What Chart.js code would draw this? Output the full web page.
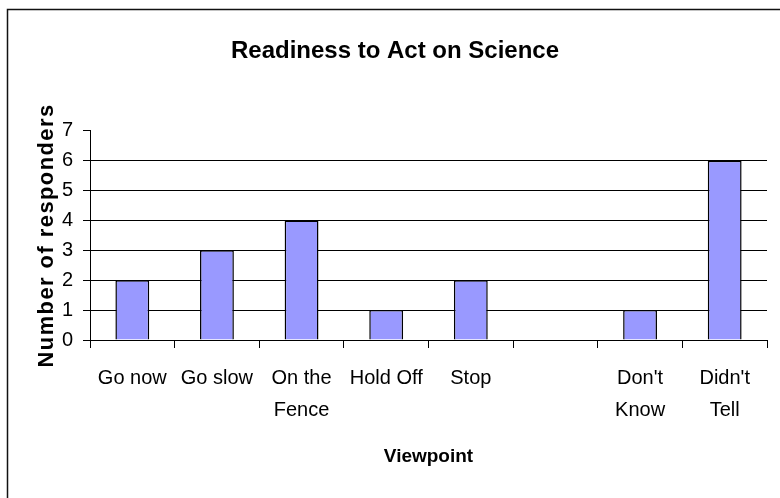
<!DOCTYPE html>
<html><head><meta charset="utf-8">
<script src="https://cdn.jsdelivr.net/npm/chart.js@4"></script>
<style>html,body{margin:0;padding:0;background:#fff}#wrap{width:780px;height:498px;position:relative}canvas{display:block}</style>
</head><body><div id="wrap"><canvas id="c" width="780" height="498"></canvas></div>
<script>
const categories = ['Go now', 'Go slow', ['On the', 'Fence'], 'Hold Off', 'Stop', '', ["Don't", 'Know'], ["Didn't", 'Tell']];
const responders = [2, 3, 4, 1, 2, 0, 1, 6];
const yTicks = [0, 1, 2, 3, 4, 5, 6, 7];
const chartTitle = 'Readiness to Act on Science';
const xTitle = 'Viewpoint';
const yTitle = 'Number of responders';

const FAMILY = "'Liberation Sans', Arial, Helvetica, sans-serif";
Chart.defaults.font.family = FAMILY;
Chart.defaults.color = '#000';

const framePlugin = {
  id: 'frame',
  beforeDraw(chart) {
    const ctx = chart.ctx;
    ctx.save();
    ctx.fillStyle = '#fff';
    ctx.fillRect(0, 0, chart.width, chart.height);
    ctx.strokeStyle = '#111';
    ctx.lineWidth = 1.5;
    ctx.beginPath();
    ctx.moveTo(7.5, chart.height);
    ctx.lineTo(7.5, 9.5);
    ctx.lineTo(chart.width, 9.5);
    ctx.stroke();
    ctx.restore();
  }
};

const yTitlePlugin = {
  id: 'yTitle',
  afterDraw(chart) {
    const ctx = chart.ctx;
    const area = chart.chartArea;
    ctx.save();
    ctx.font = "bold 22px " + FAMILY;
    ctx.letterSpacing = '1.5px';
    const w = ctx.measureText(yTitle).width;
    ctx.translate(53, (area.top + area.bottom) / 2);
    ctx.rotate(-Math.PI / 2);
    ctx.scale(264 / w, 1);
    ctx.textAlign = 'center';
    ctx.textBaseline = 'alphabetic';
    ctx.fillStyle = '#000';
    ctx.fillText(yTitle, 0, 0);
    ctx.restore();
  }
};

new Chart(document.getElementById('c'), {
  type: 'bar',
  data: {
    labels: categories,
    datasets: [{
      data: responders,
      backgroundColor: '#9999FF',
      borderColor: '#000',
      borderWidth: 1.5,
      categoryPercentage: 1,
      barPercentage: 0.4
    }]
  },
  options: {
    responsive: false,
    animation: false,
    devicePixelRatio: 1,
    layout: { padding: { left: 23, right: 13, top: 0, bottom: 0 } },
    plugins: {
      legend: { display: false },
      tooltip: { enabled: false },
      title: {
        display: true,
        text: chartTitle,
        color: '#000',
        font: { size: 24, weight: 'bold', lineHeight: 1.2 },
        padding: { top: 37, bottom: 65 }
      }
    },
    scales: {
      x: {
        offset: true,
        grid: { display: true, drawOnChartArea: false, tickLength: 8, tickColor: '#000', color: '#000', offset: true },
        border: { display: true, color: '#000', width: 1 },
        ticks: { font: { size: 20, lineHeight: 1.6 }, padding: 14, maxRotation: 0, autoSkip: false, color: '#000' },
        title: { display: true, text: xTitle, font: { size: 19, weight: 'bold', lineHeight: 1.2 }, padding: { top: 0, bottom: 30 }, color: '#000' },
        afterFit(scale) { scale.height = 158; }
      },
      y: {
        min: 0,
        max: 7,
        afterBuildTicks(scale) { scale.ticks = yTicks.map(v => ({ value: v })); },
        grid: {
          tickLength: 7,
          tickColor: '#000',
          lineWidth: 1,
          color: (c) => (c.tick && c.tick.value === 7) ? 'rgba(0,0,0,0)' : '#000'
        },
        border: { display: true, color: '#000', width: 1 },
        ticks: { font: { size: 20 }, padding: 10, color: '#000' },
        afterFit(scale) { scale.width = 67; }
      }
    }
  },
  plugins: [framePlugin, yTitlePlugin]
});
</script>
</body></html>
